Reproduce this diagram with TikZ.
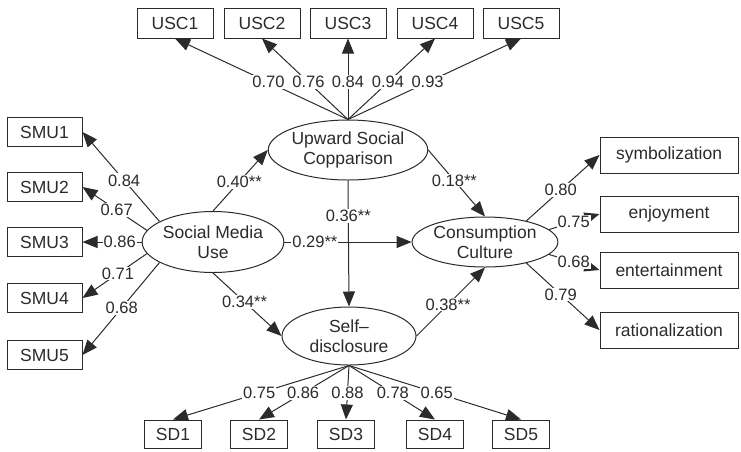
\documentclass[tikz,border=0pt]{standalone}
\usepackage{fontspec}
\setmainfont{Liberation Sans}
\usetikzlibrary{arrows.meta,shapes.geometric}
\definecolor{ink}{HTML}{2B2B2B}
\begin{document}
\begin{tikzpicture}[x=1pt,y=-1pt,
  every node/.style={text=ink},
  lat/.style={ellipse,draw=ink,line width=1pt,inner sep=0pt,align=center,font=\fontsize{17.5}{20.5}\selectfont},
  obs/.style={rectangle,draw=ink,line width=1pt,inner sep=0pt,font=\fontsize{17.5}{20}\selectfont},
  uscbox/.style={obs,minimum width=76pt,minimum height=30pt},
  smubox/.style={obs,minimum width=75pt,minimum height=29pt},
  ccbox/.style={obs,minimum width=138pt,minimum height=36pt},
  sdbox/.style={obs,minimum width=57pt,minimum height=28pt},
  con/.style={draw=ink,line width=1pt,-{Triangle[length=15pt,width=12pt]}},
  lab/.style={fill=white,inner sep=1pt,font=\fontsize{16.5}{19}\selectfont}]
\useasboundingbox (0,0) rectangle (741,451);

% latent variables
\node[lat,minimum width=140pt,minimum height=60pt] (usc) at (348,150) {Upward Social\\Copparison};
\node[lat,minimum width=136pt,minimum height=61pt] (smu) at (213,242) {Social Media\\Use};
\node[lat,minimum width=136pt,minimum height=50pt] (cc) at (485,242) {Consumption\\Culture};
\node[lat,minimum width=134pt,minimum height=58pt] (sd) at (349,336) {Self–\\disclosure};

% indicators
\node[uscbox] (usc1) at (175,23) {USC1};
\node[uscbox] (usc2) at (262,23) {USC2};
\node[uscbox] (usc3) at (348,23) {USC3};
\node[uscbox] (usc4) at (435,23) {USC4};
\node[uscbox] (usc5) at (521,23) {USC5};

\node[smubox] (smu1) at (44.5,132) {SMU1};
\node[smubox] (smu2) at (44.5,187) {SMU2};
\node[smubox] (smu3) at (44.5,242) {SMU3};
\node[smubox] (smu4) at (44.5,298) {SMU4};
\node[smubox] (smu5) at (44.5,355) {SMU5};

\node[ccbox] (sym) at (669,155) {symbolization};
\node[ccbox] (enj) at (669,214) {enjoyment};
\node[ccbox] (ent) at (669,270) {entertainment};
\node[ccbox] (rat) at (669,330) {rationalization};

\node[sdbox] (sd1) at (173,434) {SD1};
\node[sdbox] (sd2) at (259,434) {SD2};
\node[sdbox] (sd3) at (346,434) {SD3};
\node[sdbox] (sd4) at (435,434) {SD4};
\node[sdbox] (sd5) at (521,434) {SD5};

% loadings
\draw[con] (usc.north) -- node[lab,pos=0.46]{0.70} (usc1.south);
\draw[con] (usc.north) -- node[lab,pos=0.46]{0.76} (usc2.south);
\draw[con] (usc.north) -- node[lab,pos=0.46]{0.84} (usc3.south);
\draw[con] (usc.north) -- node[lab,pos=0.46]{0.94} (usc4.south);
\draw[con] (usc.north) -- node[lab,pos=0.46]{0.93} (usc5.south);

\draw[con] (smu.159) -- node[lab,pos=0.46]{0.84} (smu1.east);
\draw[con] (smu.170) -- node[lab,pos=0.47]{0.67} (smu2.east);
\draw[con] (smu.west) -- node[lab,pos=0.37]{0.86} (smu3.east);
\draw[con] (smu.190) -- node[lab,pos=0.45]{0.71} (smu4.east);
\draw[con] (smu.201) -- node[lab,pos=0.49]{0.68} (smu5.east);

\draw[con] (cc.27) -- node[lab,pos=0.47]{0.80} (sym.west);
\draw[con] (cc.11) -- node[lab,pos=0.49]{0.75} (enj.west);
\draw[con] (cc.-11) -- node[lab,pos=0.49]{0.68} (ent.west);
\draw[con] (cc.-27) -- node[lab,pos=0.47]{0.79} (rat.west);

\draw[con] (sd.south) -- node[lab,pos=0.51]{0.75} (sd1.north);
\draw[con] (sd.south) -- node[lab,pos=0.51]{0.86} (sd2.north);
\draw[con] (sd.south) -- node[lab,pos=0.51]{0.88} (sd3.north);
\draw[con] (sd.south) -- node[lab,pos=0.51]{0.78} (sd4.north);
\draw[con] (sd.south) -- node[lab,pos=0.51]{0.65} (sd5.north);

% structural paths
\draw[con] (smu.north) -- node[lab,pos=0.48]{0.40**} (usc.west);
\draw[con] (smu.south) -- node[lab,pos=0.46]{0.34**} (sd.west);
\draw[con] (smu.east) -- node[lab,pos=0.24]{0.29**} (cc.west);
\draw[con] (usc.south) -- node[lab,pos=0.28]{0.36**} (sd.north);
\draw[con] (usc.east) -- node[lab,pos=0.46]{0.18**} (cc.north);
\draw[con] (sd.east) -- node[lab,pos=0.46]{0.38**} (cc.south);
\end{tikzpicture}
\end{document}
